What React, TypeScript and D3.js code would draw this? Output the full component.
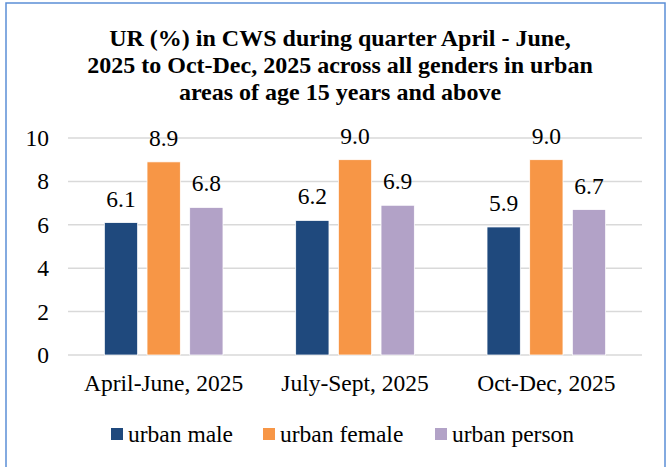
import React, { useEffect, useRef } from 'react';
import * as d3 from 'd3';

const quarters = ['April-June, 2025', 'July-Sept, 2025', 'Oct-Dec, 2025'];
const seriesNames = ['urban male', 'urban female', 'urban person'];
const urbanMale = [6.1, 6.2, 5.9];
const urbanFemale = [8.9, 9.0, 9.0];
const urbanPerson = [6.8, 6.9, 6.7];
const yTicks = [0, 2, 4, 6, 8, 10];
const titleLines = [
  'UR (%) in CWS during quarter April - June,',
  '2025 to Oct-Dec, 2025 across all genders in urban',
  'areas of age 15 years and above',
];
const colors = ['#1F497D', '#F79646', '#B2A2C7'];

const App = () => {
  const ref = useRef<SVGSVGElement>(null);

  useEffect(() => {
    const width = 671;
    const height = 467;
    const font = "'Times New Roman', 'Liberation Serif', Tinos, 'DejaVu Serif', serif";
    const fs = 23.5;
    const svg = d3.select(ref.current);
    svg.selectAll('*').remove();
    svg.attr('width', width).attr('height', height);

    svg.append('rect')
      .attr('x', 0).attr('y', 0).attr('width', width).attr('height', height)
      .attr('fill', '#fff');

    // outer frame
    svg.append('rect')
      .attr('x', 6).attr('y', 3).attr('width', 659).attr('height', 480)
      .attr('fill', 'none')
      .attr('stroke', '#5B8ED6')
      .attr('stroke-width', 1.5);

    // title
    const title = svg.append('text')
      .attr('text-anchor', 'middle')
      .style('font-family', font)
      .attr('font-weight', 'bold')
      .attr('font-size', 24)
      .attr('fill', '#000');
    titleLines.forEach((l, i) => {
      title.append('tspan').attr('x', 340).attr('y', 46 + i * 27).text(l);
    });

    const left = 68, right = 642, top = 138, bottom = 355;

    const y = d3.scaleLinear().domain([0, 10]).range([bottom, top]);
    const x0 = d3.scaleBand().domain(quarters).range([left, right])
      .paddingInner(0.38).paddingOuter(0.19);
    const x1 = d3.scaleBand().domain(seriesNames).range([0, x0.bandwidth()])
      .paddingInner(0.22).paddingOuter(0);

    const g = svg.append('g');

    // gridlines
    g.selectAll('line.grid').data(yTicks).enter().append('line')
      .attr('class', 'grid')
      .attr('x1', left).attr('x2', right)
      .attr('y1', d => y(d)).attr('y2', d => y(d))
      .attr('stroke', '#D9D9D9')
      .attr('stroke-width', 1.5);

    // y tick labels
    g.selectAll('text.ytick').data(yTicks).enter().append('text')
      .attr('class', 'ytick')
      .attr('x', 49)
      .attr('y', d => y(d) + 8)
      .attr('text-anchor', 'end')
      .style('font-family', font)
      .attr('font-size', fs)
      .attr('fill', '#000')
      .text(d => d);

    const values = [urbanMale, urbanFemale, urbanPerson];
    const rows = quarters.flatMap((q, qi) =>
      seriesNames.map((s, si) => ({ q, s, si, v: values[si][qi] }))
    );

    g.selectAll('rect.bar').data(rows).enter().append('rect')
      .attr('class', 'bar')
      .attr('x', d => x0(d.q)! + x1(d.s)!)
      .attr('y', d => y(d.v))
      .attr('width', x1.bandwidth())
      .attr('height', d => bottom - y(d.v))
      .attr('fill', d => colors[d.si])
      .attr('stroke', '#fff')
      .attr('stroke-width', 0.75);

    g.selectAll('text.val').data(rows).enter().append('text')
      .attr('class', 'val')
      .attr('x', d => x0(d.q)! + x1(d.s)! + x1.bandwidth() / 2)
      .attr('y', d => y(d.v) - 16)
      .attr('text-anchor', 'middle')
      .style('font-family', font)
      .attr('font-size', fs)
      .attr('fill', '#000')
      .text(d => d.v.toFixed(1));

    // x labels
    g.selectAll('text.xlab').data(quarters).enter().append('text')
      .attr('class', 'xlab')
      .attr('x', d => x0(d)! + x0.bandwidth() / 2)
      .attr('y', 391)
      .attr('text-anchor', 'middle')
      .style('font-family', font)
      .attr('font-size', fs)
      .attr('fill', '#000')
      .text(d => d);

    // legend
    const legendX = [111, 263, 435];
    const lg = svg.append('g');
    seriesNames.forEach((s, i) => {
      lg.append('rect')
        .attr('x', legendX[i]).attr('y', 428)
        .attr('width', 12).attr('height', 12)
        .attr('fill', colors[i]);
      lg.append('text')
        .attr('x', legendX[i] + 17).attr('y', 442)
        .style('font-family', font)
        .attr('font-size', fs)
        .attr('fill', '#000')
        .text(s);
    });
  }, []);

  return (
    <div style={{ position: 'absolute', left: 0, top: 0 }}>
      <svg ref={ref} style={{ display: 'block' }}></svg>
    </div>
  );
};

export default App;
